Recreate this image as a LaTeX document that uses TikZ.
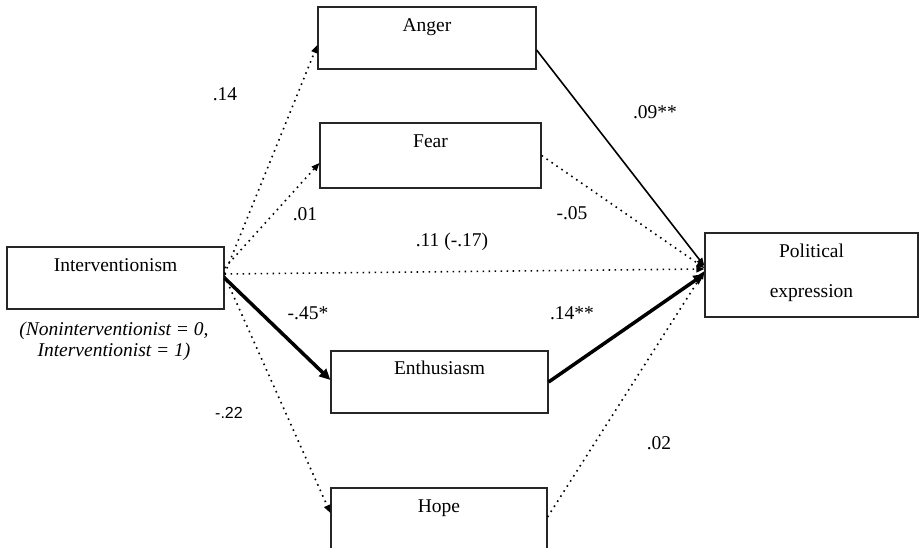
\documentclass[tikz,border=0pt]{standalone}
\usepackage{fontspec}
\setmainfont{Liberation Serif}
\newfontfamily\coefsans{Liberation Sans}
\usetikzlibrary{arrows.meta}
\begin{document}
\begin{tikzpicture}[x=1pt,y=-1pt,
  every node/.style={font=\fontsize{19.5}{23}\selectfont},
  box/.style={draw=black!85, line width=1.2pt, inner sep=0pt},
  boxtitle/.style={anchor=base, yshift=-25.5pt},
  coef/.style={inner sep=0pt},
  dotpath/.style={line width=1.6pt, dash pattern=on 1.6pt off 4.4pt,
    -{Triangle[length=8pt,width=6.5pt]}},
  solidpath/.style={line width=1.6pt, -{Triangle[length=8pt,width=6.5pt]}},
  boldpath/.style={line width=3.5pt, -{Triangle[length=11pt,width=10pt]}}]
\useasboundingbox (0,0) rectangle (920,548);
\clip (0,0) rectangle (920,548);

% variables
\node[box, minimum width=217pt, minimum height=62pt,
  label={[boxtitle]north:Interventionism}] (interv) at (115.5,278) {};
\node[box, minimum width=218pt, minimum height=62pt,
  label={[boxtitle]north:Anger}] (anger) at (427,38) {};
\node[box, minimum width=221pt, minimum height=65pt,
  label={[boxtitle]north:Fear}] (fear) at (430.5,155.5) {};
\node[box, minimum width=217pt, minimum height=62pt,
  label={[anchor=base, yshift=-24pt]north:Enthusiasm}] (enth) at (439.5,382) {};
\node[box, minimum width=216pt, minimum height=62pt,
  label={[boxtitle]north:Hope}] (hope) at (439,519) {};
\node[box, minimum width=213pt, minimum height=84pt,
  label={[anchor=base, yshift=-25pt]north:Political},
  label={[anchor=base, yshift=-65pt]north:expression}] (polit) at (811.5,275) {};

% coding note under the predictor
\node[align=center, font=\fontsize{19.5}{21}\selectfont\itshape] (coding) at (114,341)
  {(Noninterventionist = 0,\\Interventionist = 1)};

% paths from the predictor to the emotions
\draw[dotpath] ([yshift=4pt]interv.east) -- ([yshift=-7pt]anger.west);
\draw[dotpath] ([yshift=10pt]interv.east) -- ([yshift=-7.5pt]fear.west);
\draw[boldpath] (interv.east) -- ([yshift=2pt]enth.west);
\draw[dotpath] ([yshift=2pt]interv.east) -- ([yshift=6pt]hope.west);

% direct path
\draw[dotpath] ([yshift=4pt]interv.east) -- ([yshift=6pt]polit.west);

% paths from the emotions to the outcome
\draw[solidpath] ([yshift=-12pt]anger.east) -- ([yshift=9pt]polit.west);
\draw[dotpath] (fear.east) -- ([yshift=7pt]polit.west);
\draw[boldpath] (enth.east) -- ([yshift=1pt]polit.west);
\draw[dotpath] ([yshift=2pt]hope.east) -- ([yshift=4pt]polit.west);

% coefficients
\node[coef] (c14) at (225,94) {.14};
\node[coef] (c01) at (305,214) {.01};
\node[coef] (c11) at (452,242) {.11 (-.17)};
\node[coef] (c05) at (572,213) {-.05};
\node[coef] (c09) at (655,112) {.09**};
\node[coef] (c45) at (308,313) {-.45*};
\node[coef] (c14b) at (572,313) {.14**};
\node[coef, font=\coefsans\fontsize{16}{19}\selectfont] (c22) at (229,413) {-.22};
\node[coef] (c02) at (659,443) {.02};
\end{tikzpicture}
\end{document}
